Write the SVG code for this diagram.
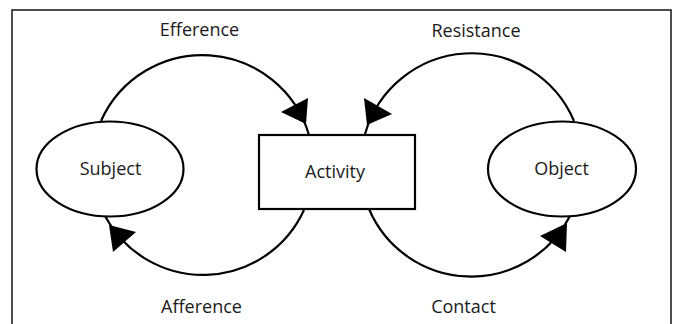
<svg xmlns="http://www.w3.org/2000/svg" width="673" height="324" viewBox="0 0 673 324">
<style>
  .node { fill: #ffffff; stroke: #000000; stroke-width: 2.2; }
  .conn { fill: none; stroke: #000000; stroke-width: 2.2; }
  .head { fill: #000000; stroke: none; }
  .lbl { font-family: "Open Sans", "Liberation Sans", sans-serif; font-size: 18px; fill: #1a1a1a; text-anchor: middle; }
</style>
<rect x="0" y="0" width="673" height="324" fill="#ffffff"/>
<rect x="12" y="10" width="659" height="330" fill="none" stroke="#222222" stroke-width="1.6"/>
<g id="connectors">
  <path class="conn" d="M101,121 A111,111 0 0 1 309,135"/>
  <polygon class="head" points="281,112 308,98 306,124"/>
  <path class="conn" d="M304,210 A111,111 0 0 1 105,216"/>
  <polygon class="head" points="109,225 136,232 113,252"/>
  <path class="conn" d="M574,121 A111,111 0 0 0 365,134"/>
  <polygon class="head" points="364,98 392,114 367,125"/>
  <path class="conn" d="M369,209 A111,111 0 0 0 570,216"/>
  <polygon class="head" points="567,223 540,236 566,252"/>
  <text class="lbl" x="199.5" y="36">Efference</text>
  <text class="lbl" x="201.5" y="313">Afference</text>
  <text class="lbl" x="476" y="37">Resistance</text>
  <text class="lbl" x="463.5" y="313">Contact</text>
</g>
<g id="subject">
  <ellipse class="node" cx="110" cy="169" rx="73.5" ry="47.5"/>
  <text class="lbl" x="110.5" y="175">Subject</text>
</g>
<g id="activity">
  <rect class="node" x="259" y="135" width="156" height="74"/>
  <text class="lbl" x="335" y="178">Activity</text>
</g>
<g id="object">
  <ellipse class="node" cx="562" cy="169" rx="74" ry="47.5"/>
  <text class="lbl" x="561.5" y="175">Object</text>
</g>
</svg>
